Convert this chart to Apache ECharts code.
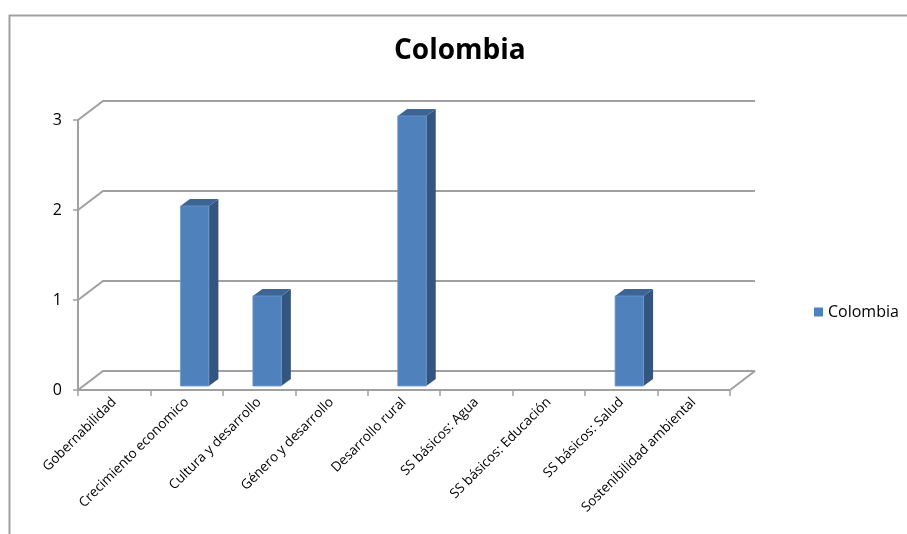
<!DOCTYPE html>
<html>
<head>
<meta charset="utf-8">
<title>Colombia</title>
<script src="https://cdn.jsdelivr.net/npm/echarts@6/dist/echarts.min.js"></script>
<style>
  html, body { margin: 0; padding: 0; background: #ffffff; }
  #chart { width: 907px; height: 534px; }
</style>
</head>
<body>
<div id="chart"></div>
<script>
// Programme areas and number of projects per area
const categories = [
  'Gobernabilidad',
  'Crecimiento economico',
  'Cultura y desarrollo',
  'Género y desarrollo',
  'Desarrollo rural',
  'SS básicos: Agua',
  'SS básicos: Educación',
  'SS básicos: Salud',
  'Sostenibilidad ambiental'
];
const colombiaValues = [0, 2, 1, 0, 3, 0, 0, 1, 0];
const valueTicks = [0, 1, 2, 3];
const seriesName = 'Colombia';
const chartTitle = 'Colombia';

// Styling
const FONT = "'Open Sans', 'Noto Sans', sans-serif";
const GRID_COLOR = '#a0a0a0';
const FRONT_COLOR = '#4f81bd';
const SIDE_COLOR = '#34557f';
const TOP_COLOR = '#3c6596';
const WALL_DX = 25, WALL_DY = -19;        // depth of the back wall / floor
const BAR_DX = 9.5, BAR_DY = -7;          // depth of each column
const BAR_SHIFT_X = 8, BAR_SHIFT_Y = -4;  // columns stand a little inside the floor
const BAR_RATIO = 0.393;                  // column width relative to category band

// Back-wall gridlines with their receding diagonals; the zero line also closes the floor
function renderWall(params, api) {
  const v = api.value(1);
  const cs = params.coordSys;
  const y = api.coord([0, v])[1];
  const x0 = cs.x, x1 = cs.x + cs.width;
  const children = [{
    type: 'polyline',
    shape: { points: [[x0, y], [x0 + WALL_DX, y + WALL_DY], [x1 + WALL_DX, y + WALL_DY]] },
    style: { stroke: GRID_COLOR, lineWidth: 2, fill: null }
  }];
  if (v === 0) {
    children.push({
      type: 'line',
      shape: { x1: x1, y1: y, x2: x1 + WALL_DX, y2: y + WALL_DY },
      style: { stroke: GRID_COLOR, lineWidth: 2 }
    });
  }
  return { type: 'group', children: children };
}

// Pseudo-3D column: side face, top face, then the front face
function renderColumn(params, api) {
  const i = api.value(0);
  const v = api.value(1);
  if (!v) return null;
  const base = api.coord([i, 0]);
  const top = api.coord([i, v]);
  const w = api.size([1, 0])[0] * BAR_RATIO;
  const xl = base[0] + BAR_SHIFT_X - w / 2;
  const xr = xl + w;
  const yb = base[1] + BAR_SHIFT_Y;
  const yt = top[1] + BAR_SHIFT_Y;
  return {
    type: 'group',
    children: [
      {
        type: 'polygon',
        shape: { points: [[xr, yt], [xr + BAR_DX, yt + BAR_DY], [xr + BAR_DX, yb + BAR_DY], [xr, yb]] },
        style: { fill: SIDE_COLOR }
      },
      {
        type: 'polygon',
        shape: { points: [[xl, yt], [xl + BAR_DX, yt + BAR_DY], [xr + BAR_DX, yt + BAR_DY], [xr, yt]] },
        style: { fill: TOP_COLOR }
      },
      {
        type: 'rect',
        shape: { x: xl, y: yt, width: w, height: yb - yt },
        style: { fill: FRONT_COLOR, stroke: '#6f97c9', lineWidth: 0.8 }
      }
    ]
  };
}

const chart = echarts.init(document.getElementById('chart'), null, { renderer: 'canvas' });

chart.setOption({
  backgroundColor: '#ffffff',
  animation: false,
  textStyle: { fontFamily: FONT },
  title: {
    text: chartTitle,
    left: 394,
    top: 37,
    padding: 0,
    textStyle: { fontSize: 28, fontWeight: 'bold', color: '#000000', fontFamily: FONT }
  },
  legend: {
    data: [{ name: seriesName, icon: 'rect' }],
    left: 809,
    top: 299,
    itemWidth: 9,
    itemHeight: 9,
    selectedMode: false,
    textStyle: { fontSize: 16, color: '#000000', fontFamily: FONT }
  },
  grid: { left: 78, top: 120, width: 652, height: 270 },
  xAxis: {
    type: 'category',
    data: categories,
    boundaryGap: true,
    axisLine: { show: true, lineStyle: { color: GRID_COLOR, width: 2 } },
    axisTick: { show: true, length: 6, interval: 0, lineStyle: { color: GRID_COLOR, width: 1.5 } },
    axisLabel: { interval: 0, rotate: 45, fontSize: 13.5, margin: 10, color: '#000000', fontFamily: FONT },
    splitLine: { show: false }
  },
  yAxis: {
    type: 'value',
    min: valueTicks[0],
    max: valueTicks[valueTicks.length - 1],
    interval: 1,
    axisLine: { show: true, lineStyle: { color: GRID_COLOR, width: 2 } },
    axisTick: { show: true, length: 5, lineStyle: { color: GRID_COLOR, width: 1.5 } },
    axisLabel: { fontSize: 16, margin: 16, color: '#000000', fontFamily: FONT },
    splitLine: { show: false }
  },
  graphic: [{
    type: 'polyline',
    silent: true,
    shape: { points: [[9.5, 534], [9.5, 15.5], [907, 15.5]] },
    style: { stroke: GRID_COLOR, lineWidth: 2, fill: null }
  }],
  series: [
    {
      name: 'wall',
      type: 'custom',
      renderItem: renderWall,
      data: valueTicks.map(v => [0, v]),
      encode: { x: 0, y: 1 },
      silent: true,
      z: 1
    },
    {
      name: seriesName,
      type: 'custom',
      renderItem: renderColumn,
      data: colombiaValues.map((v, i) => [i, v]),
      encode: { x: 0, y: 1 },
      itemStyle: { color: FRONT_COLOR },
      z: 3
    }
  ]
});
</script>
</body>
</html>
